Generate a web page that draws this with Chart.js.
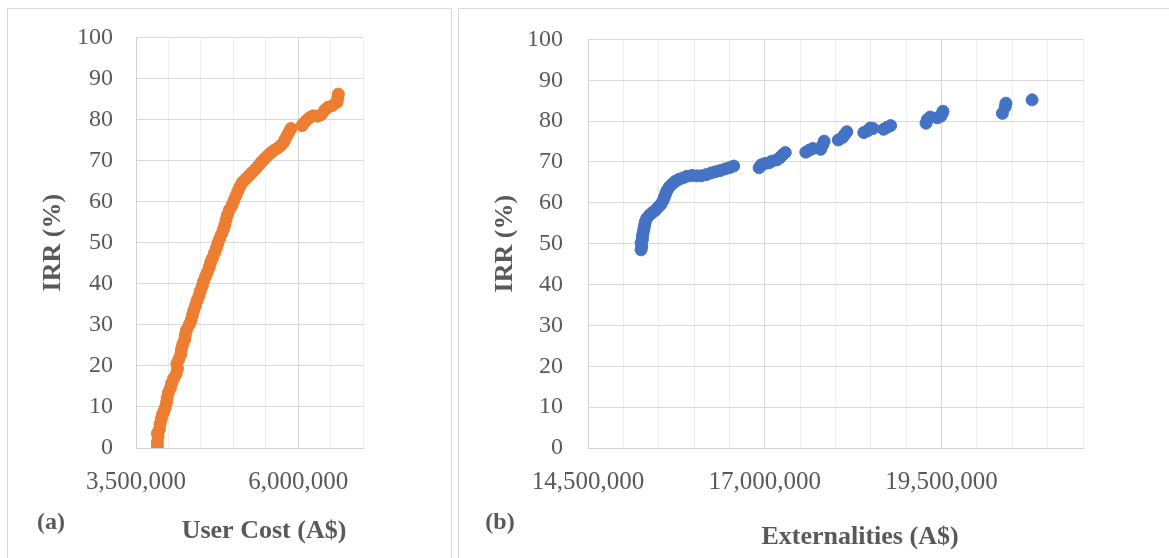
<!DOCTYPE html>
<html>
<head>
<meta charset="utf-8">
<script src="https://cdn.jsdelivr.net/npm/chart.js@4.4.0/dist/chart.umd.min.js"></script>
<style>
  body { margin: 0; background: #fff; overflow: hidden; width: 1169px; height: 558px; position: relative; }
  .panel { position: absolute; border: 1px solid #d9d9d9; }
  canvas { position: absolute; top: 0; }
</style>
</head>
<body>
<div class="panel" style="left:7px; top:8px; width:443px; height:570px;"></div>
<div class="panel" style="left:458px; top:8px; width:720px; height:570px;"></div>
<canvas id="chartA" width="455" height="558" style="left:0px;"></canvas>
<canvas id="chartB" width="714" height="558" style="left:455px;"></canvas>
<script>
// (a) IRR vs user cost
var userCost = [3830000,3830000,3840000,3830000,3860000,3870000,3890000,3910000,3930000,3950000,
  3970000,3980000,4000000,4030000,4050000,4080000,4120000,4140000,4130000,4160000,
  4190000,4200000,4220000,4250000,4260000,4280000,4320000,4350000,4370000,4390000,
  4420000,4440000,4470000,4490000,4520000,4540000,4570000,4600000,4630000,4650000,
  4680000,4710000,4740000,4760000,4790000,4820000,4850000,4870000,4890000,4910000,
  4940000,4980000,5010000,5040000,5070000,5100000,5140000,5190000,5240000,5290000,
  5340000,5390000,5430000,5480000,5530000,5580000,5630000,5680000,5730000,5770000,
  5800000,5830000,5860000,5890000,6060000,6080000,6130000,6180000,6230000,6300000,
  6360000,6410000,6460000,6530000,6600000,6610000,6620000];
var irrA = [0.5,1.5,2.8,3.6,4.5,5.8,7.0,8.2,8.9,9.8,
  11.0,12.2,13.5,14.6,15.8,16.9,18.0,19.3,20.5,21.6,
  22.8,24.0,25.2,26.4,27.5,28.8,30.0,31.1,32.3,33.5,
  34.7,35.9,37.0,38.2,39.4,40.5,41.7,42.8,44.0,45.2,
  46.3,47.5,48.7,49.8,51.0,52.1,53.3,54.4,55.6,56.8,
  58.0,59.1,60.3,61.4,62.5,63.6,64.7,65.5,66.3,67.1,
  67.9,68.8,69.6,70.4,71.2,71.9,72.5,73.0,73.6,74.3,
  75.2,76.1,77.0,77.8,78.5,79.0,79.8,80.5,80.9,80.8,
  81.2,82.3,83.0,83.4,84.2,85.2,86.2];

// (b) IRR vs externalities
var externalities = [15250000,15260000,15250000,15270000,15270000,15280000,15290000,15300000,15310000,15330000,
  15370000,15410000,15450000,15490000,15530000,15560000,15580000,15600000,15620000,15650000,
  15690000,15730000,15780000,15840000,15900000,15970000,16040000,16100000,16170000,16240000,
  16300000,16370000,16440000,16500000,16560000,
  16920000,16950000,17000000,17060000,17100000,17170000,17210000,17250000,17290000,
  17580000,17630000,17680000,17790000,17820000,17840000,
  18040000,18100000,18130000,18160000,
  18400000,18450000,18490000,18530000,18680000,18730000,18780000,
  19280000,19300000,19340000,19440000,19490000,19510000,19520000,
  20360000,20400000,20410000,20780000];
var irrB = [48.5,49.3,50.2,51.0,51.9,52.8,53.6,54.5,55.3,56.2,
  57.0,57.6,58.1,58.9,59.6,60.5,61.4,62.3,63.1,63.9,
  64.6,65.2,65.7,66.1,66.5,66.7,66.6,66.6,66.9,67.3,
  67.6,67.9,68.3,68.6,69.0,
  68.6,69.3,69.6,69.8,70.2,70.5,71.0,71.7,72.3,
  72.4,72.9,73.3,73.1,74.2,75.1,
  75.4,76.0,76.7,77.4,
  77.2,77.6,78.3,78.2,78.0,78.5,78.9,
  79.5,80.4,81.0,80.8,81.2,81.9,82.4,
  81.9,83.5,84.4,85.2];

var irrTicks = [0, 100, 10];

var textColor = '#595959';
var serif = "'Liberation Serif', 'Times New Roman', serif";

var labelText = {
  id: 'labelText',
  afterDraw: function(chart, args, opts) {
    var ctx = chart.ctx;
    ctx.save();
    ctx.fillStyle = textColor;
    ctx.textAlign = 'center';
    ctx.textBaseline = 'alphabetic';
    for (var i = 0; i < opts.items.length; i++) {
      var it = opts.items[i];
      ctx.font = it.font;
      ctx.fillText(it.text, it.x, it.y);
    }
    ctx.restore();
  }
};

function makeChart(id, xs, ys, color, xmin, xmax, lay, texts) {
  var pts = [];
  for (var i = 0; i < xs.length; i++) pts.push({x: xs[i], y: ys[i]});
  return new Chart(document.getElementById(id), {
    type: 'scatter',
    data: { datasets: [{
      data: pts,
      backgroundColor: color,
      borderColor: color,
      borderWidth: 1,
      pointRadius: 6,
      pointHoverRadius: 6
    }]},
    options: {
      responsive: false,
      animation: false,
      events: [],
      layout: { padding: { left: 0, top: 34, right: lay.right, bottom: 0 } },
      plugins: {
        legend: { display: false },
        tooltip: { enabled: false },
        labelText: { items: texts }
      },
      scales: {
        x: {
          type: 'linear',
          min: xmin,
          max: xmax,
          afterFit: function(s) { s.height = 110; },
          grid: {
            drawTicks: false,
            color: function(c) {
              return (c.tick && Math.round(c.tick.value - xmin) % 2500000 === 0) ? '#d9d9d9' : '#eeeeee';
            }
          },
          border: { color: '#d0d0d0' },
          ticks: {
            stepSize: 500000,
            autoSkip: false,
            maxRotation: 0,
            minRotation: 0,
            padding: 19,
            color: textColor,
            font: { family: serif, size: 25 },
            callback: function(v) {
              return Math.round(v - xmin) % 2500000 === 0 ? v.toLocaleString('en-US') : '';
            }
          }
        },
        y: {
          min: irrTicks[0],
          max: irrTicks[1],
          afterFit: function(s) { s.width = lay.yw; },
          grid: { drawTicks: false, color: '#d9d9d9' },
          border: { color: '#d0d0d0' },
          ticks: {
            stepSize: irrTicks[2],
            padding: lay.tp,
            color: textColor,
            font: { family: serif, size: 24 }
          },
          title: {
            display: true,
            text: 'IRR (%)',
            color: textColor,
            padding: { top: lay.titlePad, bottom: 0 },
            font: { family: serif, size: 26, weight: 'bold' }
          }
        }
      }
    },
    plugins: [labelText]
  });
}

makeChart('chartA', userCost, irrA, '#ED7D31', 3500000, 7000000,
  { right: 92, yw: 136, tp: 23, titlePad: 38 },
  [
    { text: 'User Cost (A$)', x: 264, y: 538, font: 'bold 26px ' + serif },
    { text: '(a)', x: 51, y: 529, font: 'bold 24px ' + serif }
  ]);

makeChart('chartB', externalities, irrB, '#4472C4', 14500000, 21500000,
  { right: 86, yw: 133, tp: 25, titlePad: 35 },
  [
    { text: 'Externalities (A$)', x: 405, y: 544, font: 'bold 26px ' + serif },
    { text: '(b)', x: 45, y: 529, font: 'bold 24px ' + serif }
  ]);
</script>
</body>
</html>
